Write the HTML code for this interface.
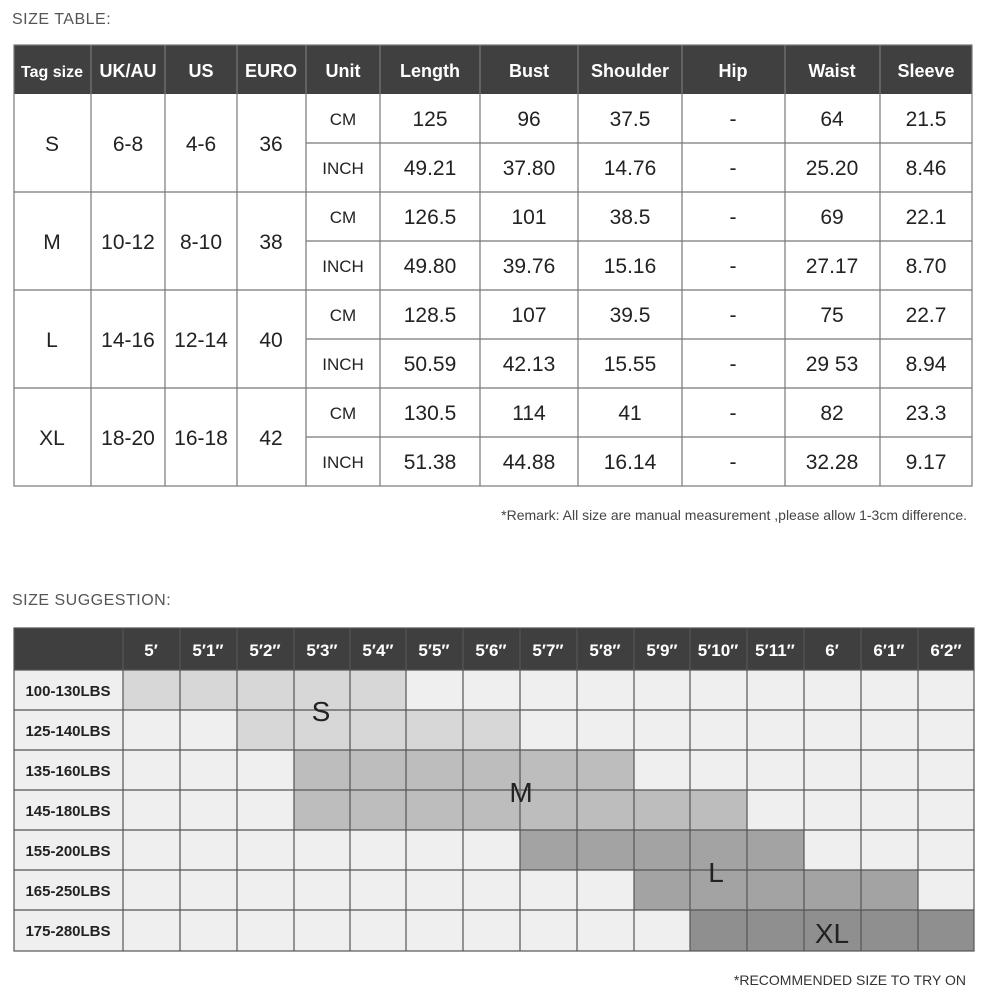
<!DOCTYPE html>
<html><head><style>
body{margin:0;width:985px;height:1001px;background:#fff;overflow:hidden;font-family:"Liberation Sans",sans-serif;}
</style></head><body>
<svg width="985" height="1001" xmlns="http://www.w3.org/2000/svg" font-family="Liberation Sans, sans-serif">
<text x="12" y="24" font-size="16" fill="#555" letter-spacing="0.5">SIZE TABLE:</text>
<!-- top table -->
<rect x="14" y="45" width="958" height="49" fill="#404040"/>
<g font-size="18" fill="#fff" font-weight="bold" text-anchor="middle">
<text x="52" y="77" font-size="16">Tag size</text><text x="128" y="77">UK/AU</text><text x="201" y="77">US</text><text x="271" y="77">EURO</text><text x="343" y="77">Unit</text><text x="430" y="77">Length</text><text x="529" y="77">Bust</text><text x="630" y="77">Shoulder</text><text x="733" y="77">Hip</text><text x="832" y="77">Waist</text><text x="926" y="77">Sleeve</text>
</g>
<g stroke="#777" stroke-width="1.2" fill="none">
<rect x="14" y="45" width="958" height="441"/>
<path d="M91 45V486M165 45V486M237 45V486M306 45V486M380 45V486M480 45V486M578 45V486M682 45V486M785 45V486M880 45V486"/>
<path d="M14 192H972M14 290H972M14 388H972"/>
<path d="M306 143H972M306 241H972M306 339H972M306 437H972"/>
</g>
<g font-size="21" fill="#222" text-anchor="middle">
<text x="52" y="151">S</text><text x="128" y="151">6-8</text><text x="201" y="151">4-6</text><text x="271" y="151">36</text>
<text x="52" y="249">M</text><text x="128" y="249">10-12</text><text x="201" y="249">8-10</text><text x="271" y="249">38</text>
<text x="52" y="347">L</text><text x="128" y="347">14-16</text><text x="201" y="347">12-14</text><text x="271" y="347">40</text>
<text x="52" y="445">XL</text><text x="128" y="445">18-20</text><text x="201" y="445">16-18</text><text x="271" y="445">42</text>
</g>
<g font-size="17" fill="#222" text-anchor="middle">
<text x="343" y="125">CM</text><text x="343" y="174">INCH</text><text x="343" y="223">CM</text><text x="343" y="272">INCH</text>
<text x="343" y="321">CM</text><text x="343" y="370">INCH</text><text x="343" y="419">CM</text><text x="343" y="468">INCH</text>
</g>
<g font-size="21" fill="#222" text-anchor="middle">
<text x="430" y="126">125</text><text x="529" y="126">96</text><text x="630" y="126">37.5</text><text x="733" y="126">-</text><text x="832" y="126">64</text><text x="926" y="126">21.5</text>
<text x="430" y="175">49.21</text><text x="529" y="175">37.80</text><text x="630" y="175">14.76</text><text x="733" y="175">-</text><text x="832" y="175">25.20</text><text x="926" y="175">8.46</text>
<text x="430" y="224">126.5</text><text x="529" y="224">101</text><text x="630" y="224">38.5</text><text x="733" y="224">-</text><text x="832" y="224">69</text><text x="926" y="224">22.1</text>
<text x="430" y="273">49.80</text><text x="529" y="273">39.76</text><text x="630" y="273">15.16</text><text x="733" y="273">-</text><text x="832" y="273">27.17</text><text x="926" y="273">8.70</text>
<text x="430" y="322">128.5</text><text x="529" y="322">107</text><text x="630" y="322">39.5</text><text x="733" y="322">-</text><text x="832" y="322">75</text><text x="926" y="322">22.7</text>
<text x="430" y="371">50.59</text><text x="529" y="371">42.13</text><text x="630" y="371">15.55</text><text x="733" y="371">-</text><text x="832" y="371">29 53</text><text x="926" y="371">8.94</text>
<text x="430" y="420">130.5</text><text x="529" y="420">114</text><text x="630" y="420">41</text><text x="733" y="420">-</text><text x="832" y="420">82</text><text x="926" y="420">23.3</text>
<text x="430" y="469">51.38</text><text x="529" y="469">44.88</text><text x="630" y="469">16.14</text><text x="733" y="469">-</text><text x="832" y="469">32.28</text><text x="926" y="469">9.17</text>
</g>
<text x="967" y="520" font-size="14" fill="#444" text-anchor="end">*Remark: All size are manual measurement ,please allow 1-3cm difference.</text>

<text x="12" y="605" font-size="16" fill="#555" letter-spacing="0.5">SIZE SUGGESTION:</text>
<!-- grid -->
<rect x="14" y="628" width="960" height="42" fill="#3f3f3f"/>
<rect x="14" y="670" width="960" height="281" fill="#efefef"/>
<g>
<rect x="123" y="670" width="283" height="40" fill="#d8d7d7"/>
<rect x="237" y="710" width="283" height="40" fill="#d8d7d7"/>
<rect x="294" y="750" width="340" height="40" fill="#bdbdbd"/>
<rect x="294" y="790" width="453" height="40" fill="#bdbdbd"/>
<rect x="520" y="830" width="284" height="40" fill="#a3a3a3"/>
<rect x="634" y="870" width="284" height="40" fill="#a3a3a3"/>
<rect x="690" y="910" width="284" height="41" fill="#8f8f8f"/>
</g>
<g stroke="#555" stroke-width="1.2" fill="none">
<rect x="14" y="628" width="960" height="323"/>
<path d="M123 628V951M180 628V951M237 628V951M294 628V951M350 628V951M406 628V951M463 628V951M520 628V951M577 628V951M634 628V951M690 628V951M747 628V951M804 628V951M861 628V951M918 628V951"/>
<path d="M14 670H974M14 710H974M14 750H974M14 790H974M14 830H974M14 870H974M14 910H974"/>
</g>
<g font-size="17" fill="#fff" font-weight="bold" text-anchor="middle">
<text x="151" y="656">5′</text><text x="208" y="656">5′1″</text><text x="265" y="656">5′2″</text><text x="322" y="656">5′3″</text><text x="378" y="656">5′4″</text><text x="434" y="656">5′5″</text><text x="491" y="656">5′6″</text><text x="548" y="656">5′7″</text><text x="605" y="656">5′8″</text><text x="662" y="656">5′9″</text><text x="718" y="656">5′10″</text><text x="775" y="656">5′11″</text><text x="832" y="656">6′</text><text x="889" y="656">6′1″</text><text x="946" y="656">6′2″</text>
</g>
<g font-size="15" fill="#222" font-weight="bold" text-anchor="middle">
<text x="68" y="696">100-130LBS</text><text x="68" y="736">125-140LBS</text><text x="68" y="776">135-160LBS</text><text x="68" y="816">145-180LBS</text><text x="68" y="856">155-200LBS</text><text x="68" y="896">165-250LBS</text><text x="68" y="936">175-280LBS</text>
</g>
<g font-size="28" fill="#222" text-anchor="middle">
<text x="321" y="721">S</text><text x="521" y="802">M</text><text x="716" y="882">L</text><text x="832" y="943">XL</text>
</g>
<text x="966" y="985" font-size="14" fill="#333" text-anchor="end">*RECOMMENDED SIZE TO TRY ON</text>
</svg>
</body></html>
